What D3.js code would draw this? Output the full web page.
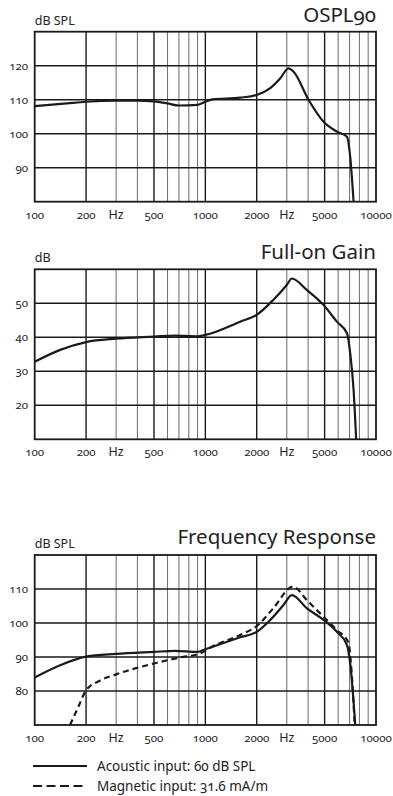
<!DOCTYPE html>
<html>
<head>
<meta charset="utf-8">
<script src="https://cdn.jsdelivr.net/npm/d3@7"></script>
<style>
  body { margin: 0; background: #fff; }
  svg { display: block; font-family: 'Noto Sans', sans-serif; font-feature-settings: "onum"; font-variant-numeric: oldstyle-nums; }
  .tick-lbl { font-size: 11.5px; fill: #222; }
  .title { font-size: 20.5px; fill: #222; }
  .unit { font-size: 12.5px; fill: #222; }
  .legend { font-size: 13.5px; fill: #222; }
</style>
</head>
<body>
<div id="chart"></div>
<script>
// x ticks shared by all three panels
const xTicks = [100, 200, 300, 500, 1000, 2000, 3000, 5000, 10000];
const xTickLabels = ['100', '200', 'Hz', '500', '1000', '2000', 'Hz', '5000', '10000'];
const xGrid = [200, 300, 400, 500, 600, 700, 800, 900, 1000,
  2000, 3000, 4000, 5000, 6000, 7000, 8000, 9000];
const xMajor = [200, 500, 1000, 2000, 5000];

// OSPL90
const osplFreq = [100, 154, 200, 300, 400, 500, 600, 700, 900, 1000, 1100, 1600, 2000, 2400, 2750, 3070, 3290, 4030, 4930, 5900, 6760, 7060, 7390];
const osplDb   = [108.1, 108.9, 109.4, 109.7, 109.7, 109.5, 108.9, 108.3, 108.5, 109.4, 110.1, 110.6, 111.4, 113.4, 116.3, 119.2, 118.2, 109.9, 103.5, 100.6, 99.1, 93.2, 80];
const osplTicks = [90, 100, 110, 120];

// Full-on gain
const gainFreq = [100, 141, 200, 300, 500, 660, 900, 1000, 1600, 2000, 2500, 3000, 3215, 3940, 4930, 5900, 6760, 7060, 7390, 7650];
const gainDb   = [32.8, 36.3, 38.6, 39.6, 40.2, 40.5, 40.3, 40.7, 44.6, 46.6, 51, 55.4, 57.3, 53.9, 49.5, 44.6, 41.2, 35.3, 24.5, 10];
const gainTicks = [20, 30, 40, 50];

// Frequency response, acoustic input
const acFreq = [100, 141, 200, 300, 500, 660, 900, 1000, 1600, 2000, 2400, 2870, 3215, 3940, 4930, 5900, 6760, 7060, 7560];
const acDb   = [84.0, 87.6, 90.1, 90.9, 91.5, 91.8, 91.5, 92.3, 95.8, 97.4, 100.9, 105.3, 108.2, 104.3, 100.9, 97.4, 93.5, 88.1, 70];
// Frequency response, magnetic input
const magFreq = [161, 180, 200, 242, 300, 500, 700, 935, 1100, 1600, 2000, 2500, 3260, 3940, 4930, 5900, 6900, 7130, 7500];
const magDb   = [70, 75.3, 80.2, 83.1, 84.9, 88.1, 89.8, 91.1, 93.1, 96.5, 99.1, 104.3, 110.7, 106.7, 101.8, 97.9, 94.2, 88.1, 70];
const respTicks = [80, 90, 100, 110];

const legendLabels = ['Acoustic input: 60 dB SPL', 'Magnetic input: 31.6 mA/m'];

const W = 393, H = 796;
const left = 34.7, right = 376, ph = 170;

const svg = d3.select('#chart').append('svg')
  .attr('width', W).attr('height', H);

const x = d3.scaleLog().domain([100, 10000]).range([left, right]);

function panel(cfg) {
  const y = d3.scaleLinear().domain(cfg.domain).range([cfg.top + ph, cfg.top]);
  const g = svg.append('g');
  const id = 'clip' + Math.round(cfg.top);

  svg.append('clipPath').attr('id', id)
    .append('rect').attr('x', left).attr('y', cfg.top).attr('width', right - left).attr('height', ph);

  // vertical grid
  g.selectAll('.vg').data(xGrid).enter().append('line')
    .attr('x1', d => x(d)).attr('x2', d => x(d))
    .attr('y1', cfg.top).attr('y2', cfg.top + ph)
    .attr('stroke', d => xMajor.includes(d) ? '#1a1a1a' : '#777')
    .attr('stroke-width', d => xMajor.includes(d) ? 1.4 : 1.1);

  // horizontal grid
  g.selectAll('.hg').data(cfg.ticks).enter().append('line')
    .attr('x1', left).attr('x2', right)
    .attr('y1', d => y(d)).attr('y2', d => y(d))
    .attr('stroke', '#1a1a1a').attr('stroke-width', 1.5);

  g.append('rect')
    .attr('x', left).attr('y', cfg.top).attr('width', right - left).attr('height', ph)
    .attr('fill', 'none').attr('stroke', '#1a1a1a').attr('stroke-width', 1.8);

  // y labels
  g.selectAll('.yl').data(cfg.ticks).enter().append('text')
    .attr('class', 'tick-lbl')
    .attr('x', 28).attr('y', d => y(d)).attr('dy', '0.35em')
    .attr('text-anchor', 'end')
    .text(d => d);

  // x labels
  g.selectAll('.xl').data(xTicks).enter().append('text')
    .attr('class', 'tick-lbl')
    .attr('x', d => x(d)).attr('y', cfg.top + ph + 17)
    .attr('text-anchor', 'middle')
    .style('font-size', (d, i) => xTickLabels[i] === 'Hz' ? '12.5px' : null)
    .text((d, i) => xTickLabels[i]);

  g.append('text').attr('class', 'title')
    .attr('x', right).attr('y', cfg.titleY).attr('text-anchor', 'end')
    .text(cfg.title);

  g.append('text').attr('class', 'unit')
    .attr('x', left).attr('y', cfg.top - 7)
    .text(cfg.unit);

  const line = d3.line()
    .x(d => x(d[0])).y(d => y(d[1]))
    .curve(d3.curveMonotoneX);

  cfg.series.forEach(s => {
    g.append('path')
      .datum(d3.zip(s.freq, s.db))
      .attr('clip-path', 'url(#' + id + ')')
      .attr('fill', 'none')
      .attr('stroke', '#1a1a1a')
      .attr('stroke-width', 2.2)
      .attr('stroke-linejoin', 'round')
      .attr('stroke-dasharray', s.dash || null)
      .attr('d', line);
  });
}

panel({ top: 31.7, domain: [80, 130], ticks: osplTicks, title: 'OSPL90', titleY: 22, unit: 'dB SPL',
  series: [{ freq: osplFreq, db: osplDb }] });
panel({ top: 269.3, domain: [10, 60], ticks: gainTicks, title: 'Full-on Gain', titleY: 259, unit: 'dB',
  series: [{ freq: gainFreq, db: gainDb }] });
panel({ top: 555, domain: [70, 120], ticks: respTicks, title: 'Frequency Response', titleY: 544, unit: 'dB SPL',
  series: [{ freq: acFreq, db: acDb }, { freq: magFreq, db: magDb, dash: '6,4' }] });

// legend
const lg = svg.append('g');
lg.selectAll('line').data(legendLabels).enter().append('line')
  .attr('x1', 33).attr('x2', 87)
  .attr('y1', (d, i) => 766 + i * 20).attr('y2', (d, i) => 766 + i * 20)
  .attr('stroke', '#1a1a1a').attr('stroke-width', 2.2)
  .attr('stroke-dasharray', (d, i) => i ? '9,4.5' : null);
lg.selectAll('text').data(legendLabels).enter().append('text')
  .attr('class', 'legend')
  .attr('x', 97).attr('y', (d, i) => 770.5 + i * 20)
  .text(d => d);
</script>
</body>
</html>
